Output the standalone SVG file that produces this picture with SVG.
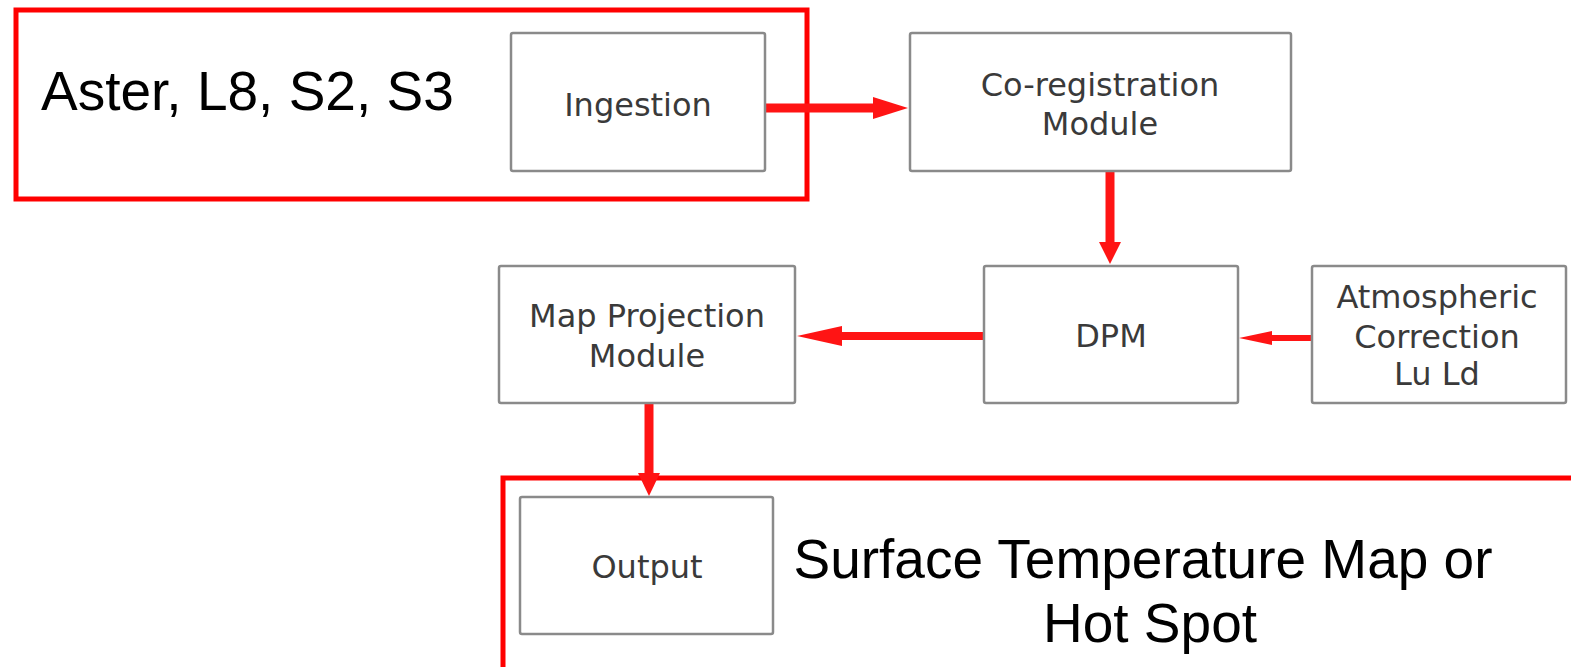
<svg xmlns="http://www.w3.org/2000/svg" width="1571" height="667" viewBox="0 0 1571 667">
<style>
.frame{fill:none;stroke:#ff0000;stroke-width:5}
.box{fill:#ffffff;stroke:#8a8a8a;stroke-width:2.5}
.bt{font-family:"DejaVu Sans",Verdana,sans-serif;font-size:32px;fill:#3a3a3a;text-anchor:middle}
.big{font-family:"Liberation Sans",Arial,sans-serif;font-size:55px;fill:#000000}
.ln{stroke:#ff1414;fill:none}
.hd{fill:#ff1414;stroke:none}
</style>
<rect width="1571" height="667" fill="#ffffff"/>
<g id="frame-input">
<rect class="frame" x="16" y="10" width="791" height="189"/>
<text class="big" x="41" y="110">Aster, L8, S2, S3</text>
</g>
<g id="frame-output">
<rect class="frame" x="503" y="478" width="1100" height="300"/>
<text class="big" x="1143" y="578" text-anchor="middle">Surface Temperature Map or</text>
<text class="big" x="1150" y="642" text-anchor="middle">Hot Spot</text>
</g>
<g id="connectors">
<line class="ln" x1="765" y1="108" x2="876" y2="108" stroke-width="9"/>
<polygon class="hd" points="873,97 908,108 873,119"/>
<line class="ln" x1="1110" y1="171" x2="1110" y2="244" stroke-width="9"/>
<polygon class="hd" points="1099,242 1110,264 1121,242"/>
<line class="ln" x1="984" y1="336" x2="838" y2="336" stroke-width="8"/>
<polygon class="hd" points="842,326 797,336 842,346"/>
<line class="ln" x1="1312" y1="338" x2="1268" y2="338" stroke-width="6"/>
<polygon class="hd" points="1272,331 1239,338 1272,345"/>
<line class="ln" x1="649" y1="403" x2="649" y2="476" stroke-width="9"/>
<polygon class="hd" points="638,473 649,496 660,473"/>
</g>
<g id="ingestion">
<rect class="box" x="511" y="33" width="254" height="138" rx="2"/>
<text class="bt" x="638" y="116">Ingestion</text>
</g>
<g id="coregistration">
<rect class="box" x="910" y="33" width="381" height="138" rx="2"/>
<text class="bt" x="1100" y="96">Co-registration</text>
<text class="bt" x="1100" y="135">Module</text>
</g>
<g id="map-projection">
<rect class="box" x="499" y="266" width="296" height="137" rx="2"/>
<text class="bt" x="647" y="327">Map Projection</text>
<text class="bt" x="647" y="367">Module</text>
</g>
<g id="dpm">
<rect class="box" x="984" y="266" width="254" height="137" rx="2"/>
<text class="bt" x="1111" y="347">DPM</text>
</g>
<g id="atmospheric">
<rect class="box" x="1312" y="266" width="254" height="137" rx="2"/>
<text class="bt" x="1437" y="308">Atmospheric</text>
<text class="bt" x="1437" y="348">Correction</text>
<text class="bt" x="1437" y="385">Lu Ld</text>
</g>
<g id="output">
<rect class="box" x="520" y="497" width="253" height="137" rx="2"/>
<text class="bt" x="647" y="578">Output</text>
</g>
</svg>
